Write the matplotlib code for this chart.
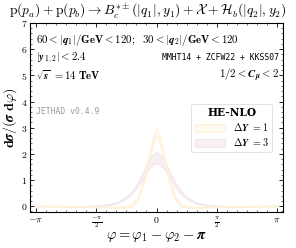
import numpy as np
import matplotlib
matplotlib.use("Agg")
import matplotlib.pyplot as plt
from matplotlib.ticker import MultipleLocator

# ── dane ─────────────────────────────────────────────────
phi = np.array([-3.1416, -2.6, -2.0, -1.5, -1.2, -1.0, -0.8, -0.65, -0.5, -0.4,
                -0.3, -0.2, -0.1, 0.0, 0.1, 0.2, 0.3, 0.4, 0.5, 0.65, 0.8,
                1.0, 1.2, 1.5, 2.0, 2.6, 3.1416])

dy1_lo = np.array([0.00, -0.01, -0.03, -0.04, -0.05, -0.06, -0.05, -0.02, 0.22, 0.58,
                   1.08, 1.70, 2.35, 2.69, 2.35, 1.70, 1.08, 0.58, 0.22, -0.02, -0.05,
                   -0.06, -0.05, -0.04, -0.03, -0.01, 0.00])
dy1_hi = np.array([0.03, 0.02, 0.00, -0.01, -0.02, -0.02, 0.00, 0.07, 0.33, 0.72,
                   1.25, 1.92, 2.60, 2.96, 2.60, 1.92, 1.25, 0.72, 0.33, 0.07, 0.00,
                   -0.02, -0.02, -0.01, 0.00, 0.02, 0.03])

dy3_lo = np.array([0.00, -0.01, -0.02, 0.00, 0.05, 0.12, 0.28, 0.45, 0.72, 0.95,
                   1.20, 1.42, 1.58, 1.65, 1.58, 1.42, 1.20, 0.95, 0.72, 0.45, 0.28,
                   0.12, 0.05, 0.00, -0.02, -0.01, 0.00])
dy3_hi = np.array([0.02, 0.01, 0.00, 0.03, 0.09, 0.17, 0.36, 0.56, 0.88, 1.16,
                   1.47, 1.75, 1.97, 2.08, 1.97, 1.75, 1.47, 1.16, 0.88, 0.56, 0.36,
                   0.17, 0.09, 0.03, 0.00, 0.01, 0.02])

x_ticks = [-np.pi, -np.pi / 2, 0, np.pi / 2, np.pi]
x_labels = [r"$-\pi$", r"$\frac{-\pi}{2}$", r"$0$", r"$\frac{\pi}{2}$", r"$\pi$"]
y_ticks = [0, 1, 2, 3, 4, 5, 6, 7]

plt.rcParams.update({
    "font.family": "serif",
    "font.serif": ["DejaVu Serif"],
    "mathtext.fontset": "cm",
})

fig = plt.figure(figsize=(2.96, 2.48), dpi=100)
ax = fig.add_axes([30 / 296, 36 / 248, 253 / 296, 189 / 248])

ax.fill_between(phi, dy1_lo, dy1_hi, facecolor="#fffaf0", edgecolor="#fff0d6",
                linewidth=0.8, label=r"$\mathbf{\Delta}\boldsymbol{Y}\mathbf{\ =1}$", zorder=3)
ax.fill_between(phi, dy3_lo, dy3_hi, facecolor="#f8f0f5", edgecolor="#f3e6ee",
                linewidth=0.8, label=r"$\mathbf{\Delta}\boldsymbol{Y}\mathbf{\ =3}$", zorder=2)

ax.set_xlim(-np.pi - 0.15, np.pi + 0.15)
ax.set_ylim(-0.22, 7)
ax.set_xticks(x_ticks)
ax.set_xticklabels(x_labels, fontsize=7)
ax.set_yticks(y_ticks)
ax.set_yticklabels([r"$\mathbf{%d}$" % v for v in y_ticks], fontsize=7)
ax.xaxis.set_minor_locator(MultipleLocator(np.pi / 12))
ax.yaxis.set_minor_locator(MultipleLocator(0.2))
ax.tick_params(which="both", direction="in", top=True, right=True, pad=2)
ax.tick_params(which="major", length=3, width=0.6)
ax.tick_params(which="minor", length=1.5, width=0.4)
for s in ax.spines.values():
    s.set_linewidth(0.8)

ax.set_xlabel(r"$\boldsymbol{\varphi} = \boldsymbol{\varphi}_1 - \boldsymbol{\varphi}_2 - \boldsymbol{\pi}$",
              fontsize=10.5, labelpad=0)
ax.set_ylabel(r"$\mathbf{d}\boldsymbol{\sigma} / (\boldsymbol{\sigma}\ \mathbf{d}\boldsymbol{\varphi})$",
              fontsize=10, labelpad=1)

fig.text(0.5, 0.958,
         r"$\mathrm{p}(p_a) + \mathrm{p}(p_b) \to B_c^{*\pm}(|q_1|, y_1) + \mathcal{X} + \mathcal{H}_b(|q_2|, y_2)$",
         ha="center", va="center", fontsize=9.8)

ax.text(0.024, 0.91,
        r"$\mathbf{60 < |}\boldsymbol{q}_\mathbf{1}\mathbf{|/GeV < 120;\ \ 30 < |}\boldsymbol{q}_\mathbf{2}\mathbf{|/GeV < 120}$",
        transform=ax.transAxes, ha="left", va="center", fontsize=7.8)
ax.text(0.024, 0.815, r"$\mathbf{|}\boldsymbol{y}_\mathbf{1,2}\mathbf{| < 2.4}$",
        transform=ax.transAxes, ha="left", va="center", fontsize=7.8)
ax.text(0.024, 0.725, r"$\sqrt{\boldsymbol{s}}\mathbf{\ = 14\ TeV}$",
        transform=ax.transAxes, ha="left", va="center", fontsize=7.8)
ax.text(0.024, 0.53, "JETHAD v0.4.9", transform=ax.transAxes, ha="left", va="center",
        fontsize=5.8, color="#999999", family="DejaVu Sans Mono")
ax.text(0.984, 0.815, "MMHT14 + ZCFW22 + KKSS07", transform=ax.transAxes,
        ha="right", va="center", fontsize=5.9, family="DejaVu Sans Mono")
ax.text(0.984, 0.725, r"$\mathbf{1/2 < }\boldsymbol{C}_{\boldsymbol{\mu}}\mathbf{ < 2}$",
        transform=ax.transAxes, ha="right", va="center", fontsize=7.8)

leg = ax.legend(loc="upper right", bbox_to_anchor=(0.978, 0.6), title="HE-NLO",
                prop={"size": 7.3}, title_fontproperties={"weight": "bold", "size": 7.6},
                frameon=True, fancybox=True, framealpha=1, edgecolor="#dddddd",
                handlelength=3.0, handleheight=0.9, borderpad=0.35, labelspacing=0.3,
                handletextpad=0.8)
leg.get_frame().set_linewidth(0.6)

fig.savefig("out.png", dpi=100)
